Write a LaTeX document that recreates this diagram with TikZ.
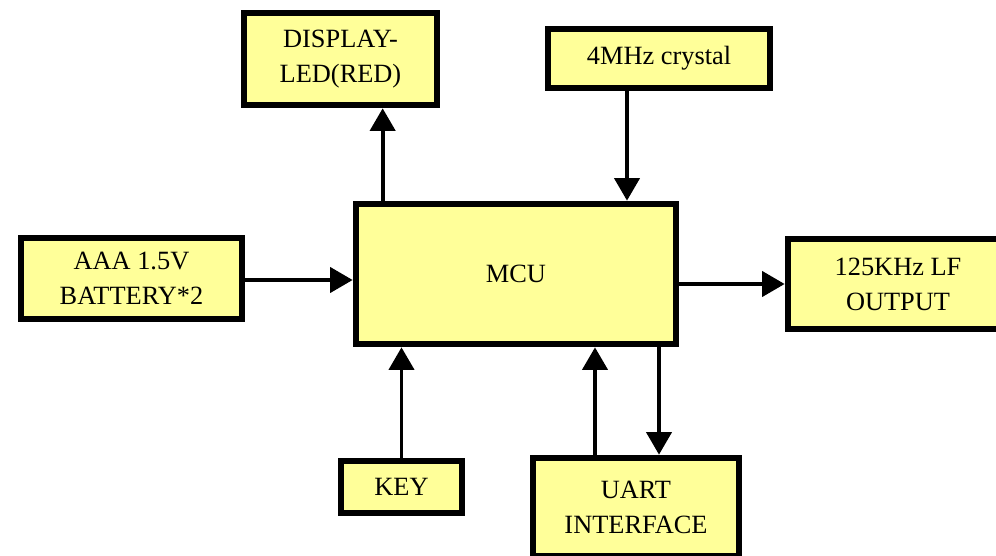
\documentclass[tikz,border=0pt]{standalone}
\usepackage{fontspec}
\setmainfont{Liberation Serif}
\usepackage{xcolor}
\usepackage{tikz}
\usetikzlibrary{arrows.meta, calc}
\definecolor{blockyellow}{RGB}{255, 255, 153}
\tikzstyle{block} = [
    rectangle,
    draw=black,
    line width=3.8pt,
    fill=blockyellow,
    align=center,
    inner sep=0pt,
    font=\fontsize{15}{20}\selectfont
]
\tikzstyle{arrow} = [
    line width=2.2pt,
    -{Triangle[width=0.5cm, length=0.45cm]},
    color=black
]
\begin{document}
\begin{tikzpicture}
    \useasboundingbox (0,0) rectangle (19.92,-11.12);

    % Blocks
    \node[block, minimum width=6.4cm, minimum height=2.8cm] (mcu) at (10.32,-5.48) {MCU};
    \node[block, minimum width=3.86cm, minimum height=1.84cm] (display) at (6.81,-1.18) {DISPLAY-\\LED(RED)};
    \node[block, minimum width=4.44cm, minimum height=1.18cm] (crystal) at (13.18,-1.17) {4MHz crystal};
    \node[block, minimum width=4.42cm, minimum height=1.62cm] (battery) at (2.63,-5.57) {AAA 1.5V\\BATTERY*2};
    \node[block, minimum width=4.4cm, minimum height=1.8cm] (output) at (17.96,-5.68) {125KHz LF\\OUTPUT};
    \node[block, minimum width=2.42cm, minimum height=1.04cm] (key) at (8.03,-9.74) {KEY};
    \node[block, minimum width=4.12cm, minimum height=1.96cm] (uart) at (12.72,-10.14) {UART\\INTERFACE};

    % Arrows
    \draw[arrow] ([xshift=0.6cm]mcu.north west) -- ([xshift=0.6cm]mcu.north west |- display.south);
    \draw[arrow] ([xshift=-0.64cm]crystal.south) -- ([xshift=-0.64cm]crystal.south |- mcu.north);
    \draw[arrow] ([yshift=-0.03cm]battery.east) -- ([yshift=-0.03cm]battery.east -| mcu.west);
    \draw[arrow] (mcu.east |- output.west) -- (output.west);
    \draw[arrow] (key) -- (key |- mcu.south);
    \draw[arrow] ([xshift=-0.82cm]uart.north) -- ([xshift=-0.82cm]uart.north |- mcu.south);
    \draw[arrow] ([xshift=0.46cm]uart.north |- mcu.south) -- ([xshift=0.46cm]uart.north);
\end{tikzpicture}
\end{document}
